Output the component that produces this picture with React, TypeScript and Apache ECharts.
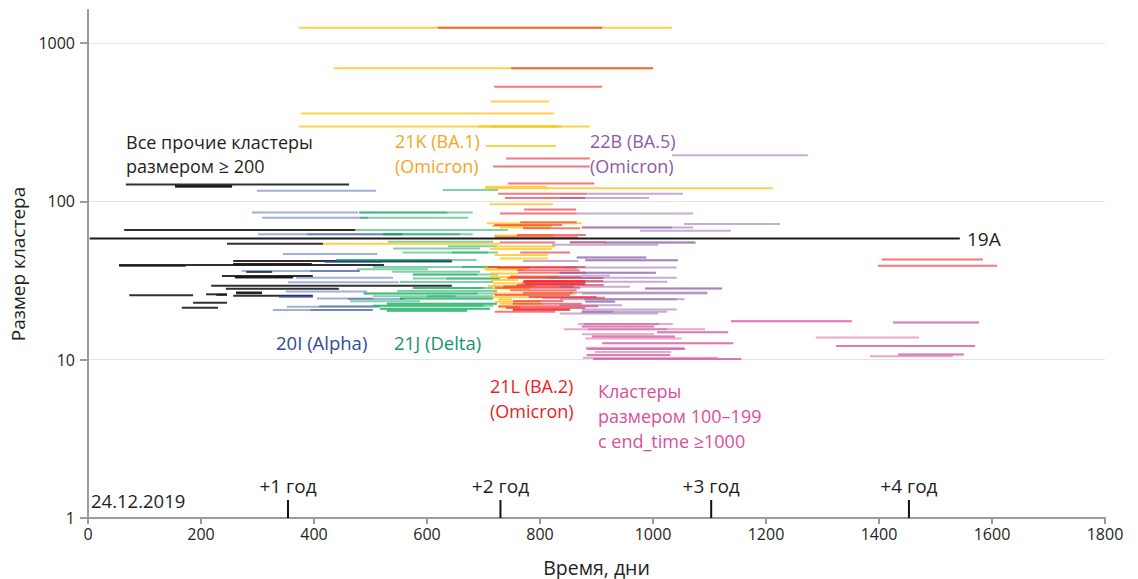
import { useEffect, useRef } from "react";
import * as echarts from "echarts";

// Axis ticks
const xTickStep = 200;
const yTicks = [1, 10, 100, 1000];

// Year markers counted from 24.12.2019 (days)
const yearMarks = [354, 730, 1103, 1453];
const yearLabels = ["+1 год", "+2 год", "+3 год", "+4 год"];

// Each cluster: [start day, end day, cluster size]
const clade19A = [[3, 1543, 58.4]];

const otherClusters = [
  [67, 462, 128], [154, 255, 125], [154, 255, 124],
  [64, 473, 66], [246, 416, 54], [257, 644, 42],
  [55, 173, 39.6], [55, 173, 39.3], [173, 524, 39.6],
  [257, 396, 40.2], [257, 396, 39.9], [280, 326, 35.9],
  [237, 398, 33.8], [260, 363, 33.3], [260, 363, 33.1],
  [218, 644, 29.3], [244, 444, 28.1], [262, 308, 26.6], [262, 308, 26.3],
  [209, 246, 25.9], [73, 186, 25.5], [227, 246, 25.7], [257, 398, 25.4],
  [186, 246, 22.9], [166, 230, 21.3],
];

const alpha20I = [
  [299, 510, 117], [290, 478, 85], [308, 496, 79],
  [301, 556, 62], [388, 556, 62], [345, 512, 46.6],
  [419, 644, 41.5], [419, 520, 41.5], [272, 481, 36.3], [393, 481, 36.3],
  [368, 540, 33], [354, 550, 30.9], [350, 494, 27],
  [338, 398, 25], [338, 398, 25], [405, 504, 24.4], [460, 560, 24.2],
  [352, 517, 21.6], [409, 504, 21.8], [327, 504, 20.6], [394, 504, 20.6],
];

const delta21J = [
  [628, 726, 118], [480, 681, 85], [480, 636, 85], [481, 673, 79],
  [473, 743, 66], [522, 658, 62], [522, 681, 62], [531, 717, 55.7],
  [637, 724, 52.2], [540, 694, 50.4], [557, 726, 47.6], [644, 708, 47.6],
  [439, 688, 42.6], [439, 644, 42.6], [504, 726, 38.6], [662, 708, 38.6],
  [476, 602, 37.3], [538, 694, 36], [575, 726, 34.5], [575, 690, 34.5],
  [575, 729, 32.6], [634, 729, 32.6], [552, 717, 31], [575, 717, 28.4],
  [575, 700, 28.4], [547, 724, 27.2], [488, 724, 26.2], [488, 690, 26.2],
  [504, 717, 25.2], [600, 650, 25.2], [552, 717, 24.4], [552, 717, 24.4],
  [464, 588, 23.4], [529, 724, 22.6], [529, 724, 22.6], [504, 717, 21.9],
  [504, 700, 21.9], [517, 711, 21], [517, 711, 21], [529, 671, 20.4],
  [529, 671, 20.4],
];

const ba1 = [
  [373, 1034, 1253], [435, 1000, 695], [713, 816, 428], [377, 825, 360],
  [373, 888, 298], [690, 839, 298], [712, 830, 298], [704, 828, 224],
  [703, 812, 124], [703, 1212, 121], [711, 823, 96], [706, 874, 72.7],
  [715, 821, 70], [729, 818, 68.5], [416, 729, 54], [720, 827, 52],
  [712, 821, 50], [720, 814, 45.8], [729, 814, 43.6], [699, 782, 37.8],
  [703, 770, 37], [712, 761, 35], [711, 832, 33.3], [712, 761, 31.9],
  [717, 768, 30.4], [715, 782, 28.2], [717, 865, 26.2], [712, 805, 24.8],
  [726, 750, 24], [729, 804, 22.6], [726, 765, 21.4], [719, 823, 61],
  [708, 790, 29.2], [720, 800, 23.2],
];

const ba2 = [
  [619, 910, 1253], [749, 1000, 695], [719, 910, 530], [740, 888, 187],
  [717, 888, 166], [743, 896, 130], [726, 883, 112], [738, 880, 105],
  [772, 864, 89], [729, 865, 84], [765, 865, 74], [719, 839, 71],
  [770, 871, 67.7], [759, 881, 61.3], [720, 867, 59.5], [729, 827, 55.1],
  [853, 917, 55.1], [765, 853, 47.6], [708, 880, 38.6], [724, 865, 38.1],
  [761, 881, 35.5], [747, 874, 33.6], [742, 912, 32.8], [773, 912, 31.4],
  [770, 880, 31.4], [770, 880, 31], [768, 880, 30.4], [773, 880, 30.1],
  [759, 913, 29.6], [720, 871, 28.5], [747, 865, 27.5], [770, 858, 26.5],
  [720, 853, 25.6], [804, 915, 24.6], [752, 841, 23.5], [752, 874, 22.6],
  [726, 903, 21.8], [752, 853, 20.7], [752, 853, 20.7], [720, 827, 20.1],
  [760, 870, 36.8], [735, 860, 29.0], [780, 900, 24.9], [740, 880, 21.2],
  [1405, 1584, 43], [1398, 1609, 39.2],
];

const ba5 = [
  [1034, 1274, 196], [883, 1053, 112], [835, 993, 105], [865, 1071, 84],
  [1055, 1225, 72], [874, 1071, 68.5], [874, 1034, 68.5], [977, 1138, 65.3],
  [915, 1076, 54.6], [853, 1074, 55.5], [821, 1009, 53.3], [865, 988, 44.3],
  [865, 988, 44.3], [880, 1044, 42.5], [880, 1044, 42.5], [770, 868, 42],
  [843, 1042, 38.2], [835, 1005, 35.5], [835, 1005, 35.5], [874, 924, 34],
  [815, 1042, 33], [874, 1025, 31.1], [835, 959, 28.9], [986, 1122, 28.2],
  [986, 1122, 28.2], [853, 1096, 26.6], [874, 1096, 26.2], [835, 1042, 24.1],
  [878, 1056, 24.1], [880, 933, 23.3], [880, 933, 23.3], [835, 945, 22.1],
  [874, 1042, 20.8], [874, 1025, 20.1], [874, 930, 20.1], [835, 1009, 19.6],
];

const late100 = [
  [1138, 1352, 17.5], [1138, 1352, 17.5], [1425, 1577, 17.2], [1425, 1577, 17.2],
  [867, 1035, 16.8], [878, 1011, 16.8], [874, 1002, 16.2], [874, 1002, 16.2],
  [842, 1092, 15.6], [885, 1025, 15.6], [1007, 1133, 14.9], [1007, 1133, 14.9],
  [874, 1002, 14.5], [892, 1039, 14], [892, 1039, 14], [1288, 1471, 13.8],
  [880, 1051, 13.6], [910, 1142, 12.7], [910, 1142, 12.7], [1324, 1570, 12.2],
  [1324, 1570, 12.2], [881, 1055, 11.9], [883, 1057, 11.7], [883, 1057, 11.7],
  [897, 1032, 11.2], [1434, 1550, 10.8], [1434, 1550, 10.8], [883, 1030, 10.7],
  [883, 1030, 10.7], [1384, 1531, 10.5], [876, 1115, 10.3], [894, 1156, 10.1],
  [894, 1156, 10.1],
];

const FONT = '"Open Sans", "Noto Sans", sans-serif';
const TEXT = "#231f20";

function segmentSeries(name: string, data: number[][], color: string, opacity: number) {
  return {
    type: "custom",
    name,
    data,
    encode: { x: [0, 1], y: 2 },
    silent: true,
    renderItem: (_params: any, api: any) => {
      const size = api.value(2);
      const a = api.coord([api.value(0), size]);
      const b = api.coord([api.value(1), size]);
      return {
        type: "line",
        shape: { x1: a[0], y1: a[1], x2: b[0], y2: b[1] },
        style: { stroke: color, lineWidth: 2, opacity },
      };
    },
  };
}

// Annotation block: one text element, several lines, centred vertically on y
function label(lines: string[], x: number, y: number, fill: string, size = 18, lineHeight = 24.6) {
  return {
    type: "text",
    x,
    y,
    silent: true,
    style: {
      text: lines.join("\n"),
      fill,
      font: `${size}px ${FONT}`,
      lineHeight,
      align: "left",
      verticalAlign: "middle",
    },
  };
}

const plain = (v: number) => String(v);

export default function App() {
  const ref = useRef<HTMLDivElement>(null);

  useEffect(() => {
    if (!ref.current) return;
    const chart = echarts.init(ref.current, null, { renderer: "svg" });

    const option: any = {
      animation: false,
      backgroundColor: "#ffffff",
      grid: { left: 88, right: 33, top: 10, bottom: 61, containLabel: false, outerBoundsMode: "none" },
      xAxis: {
        type: "value",
        min: 0,
        max: 1800,
        interval: xTickStep,
        name: "Время, дни",
        nameLocation: "middle",
        nameGap: 39,
        nameTextStyle: { fontFamily: FONT, fontSize: 19.5, color: TEXT },
        axisLine: { show: true, lineStyle: { color: "#9b9b9b", width: 2 } },
        axisTick: { show: true, length: 6, lineStyle: { color: "#9b9b9b", width: 2 } },
        axisLabel: { fontFamily: FONT, fontSize: 16, color: TEXT, margin: 8, formatter: plain },
        splitLine: { show: false },
      },
      yAxis: {
        type: "log",
        logBase: 10,
        min: 1,
        max: 1620,
        name: "Размер кластера",
        nameLocation: "middle",
        nameGap: 58,
        nameTextStyle: { fontFamily: FONT, fontSize: 19, color: TEXT },
        axisLine: { show: true, lineStyle: { color: "#9b9b9b", width: 2 } },
        axisTick: { show: true, length: 8, customValues: yTicks, lineStyle: { color: "#9b9b9b", width: 2 } },
        axisLabel: { fontFamily: FONT, fontSize: 16, color: TEXT, margin: 13, customValues: yTicks, formatter: plain },
        splitLine: { show: true, lineStyle: { color: "#e4e4e4", width: 1 } },
      },
      series: [
        segmentSeries("Прочие кластеры", otherClusters, "#1a1a1a", 0.9),
        segmentSeries("20I (Alpha)", alpha20I, "#2f4fa6", 0.45),
        segmentSeries("21J (Delta)", delta21J, "#00a651", 0.5),
        segmentSeries("21K (BA.1)", ba1, "#ffc20e", 0.75),
        segmentSeries("21L (BA.2)", ba2, "#ed1c24", 0.6),
        segmentSeries("22B (BA.5)", ba5, "#8a5aa6", 0.5),
        segmentSeries("Кластеры 100–199", late100, "#d2509a", 0.5),
        segmentSeries("19A", clade19A, "#1a1a1a", 1),
        {
          type: "custom",
          name: "Годы",
          data: yearMarks.map((d) => [d, 1]),
          encode: { x: 0, y: 1 },
          silent: true,
          renderItem: (params: any, api: any) => {
            const p = api.coord([api.value(0), api.value(1)]);
            return {
              type: "group",
              children: [
                {
                  type: "line",
                  shape: { x1: p[0], y1: p[1], x2: p[0], y2: p[1] - 18 },
                  style: { stroke: "#111111", lineWidth: 2 },
                },
                {
                  type: "text",
                  x: p[0],
                  y: p[1] - 32,
                  style: {
                    text: yearLabels[params.dataIndex],
                    fill: TEXT,
                    font: `19px ${FONT}`,
                    align: "center",
                    verticalAlign: "middle",
                  },
                },
              ],
            };
          },
        },
      ],
      graphic: [
        label(["24.12.2019"], 91, 500, TEXT, 18.5),
        label(["Все прочие кластеры", "размером ≥ 200"], 126, 154, TEXT),
        label(["21K (BA.1)", "(Omicron)"], 395, 153.5, "#f5a623"),
        label(["22B (BA.5)", "(Omicron)"], 590, 153.5, "#8d5aa7"),
        label(["19A"], 967, 239, TEXT, 19),
        label(["20I (Alpha)"], 276, 342, "#2e4b9c", 18.5),
        label(["21J (Delta)"], 394, 342, "#17936f", 18.5),
        label(["21L (BA.2)", "(Omicron)"], 490, 398.5, "#ed1c24"),
        label(["Кластеры", "размером 100–199", "с end_time ≥1000"], 598, 416, "#d84f9b"),
      ],
    };

    chart.setOption(option);
    return () => chart.dispose();
  }, []);

  return (
    <div
      ref={ref}
      style={{ position: "absolute", left: 0, top: 0, width: 1138, height: 579, background: "#fff" }}
    />
  );
}
